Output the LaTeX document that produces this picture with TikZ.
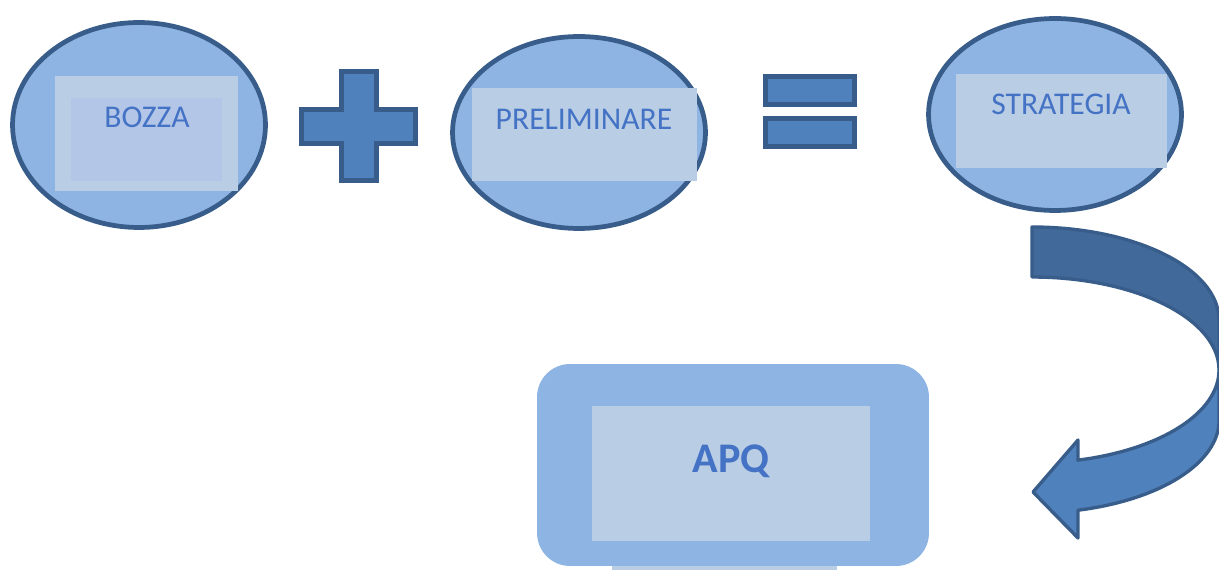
\documentclass[tikz,border=0pt]{standalone}
\usepackage{fontspec}
\setmainfont{Carlito}
\usetikzlibrary{shapes.geometric}
\definecolor{bubblefill}{HTML}{8EB4E3}
\definecolor{bubbleline}{HTML}{385D8A}
\definecolor{panelfill}{HTML}{B9CDE5}
\definecolor{panelinner}{HTML}{B3C6E7}
\definecolor{signfill}{HTML}{4F81BD}
\definecolor{backfill}{HTML}{41699A}
\definecolor{wordcolor}{HTML}{4472C4}

\begin{document}
\begin{tikzpicture}[x=0.02cm,y=-0.02cm,
  bubble/.style={ellipse,draw=bubbleline,fill=bubblefill,line width=2.7pt,inner sep=0pt,minimum width=5.06cm},
  panel/.style={rectangle,fill=panelfill,inner sep=0pt},
  word/.style={anchor=base,text=wordcolor,inner sep=0pt,font=\fontsize{18}{20}\selectfont},
  sign/.style={draw=bubbleline,fill=signfill,line width=3.2pt},
  ribbon/.style={draw=bubbleline,line width=1.9pt,line join=round}]
  \useasboundingbox (0,0) rectangle (1219,570);
  %left
  \node[bubble,minimum height=4.10cm] (bozza) at (139,125) {};
  \node[panel,minimum width=3.66cm,minimum height=2.30cm] (bozzapanel) at (146.5,133.5) {};
  \node[panel,fill=panelinner,minimum width=3.02cm,minimum height=1.66cm] (bozzainner) at (146.5,139.5) {};
  \node[word] (bozzatext) at (147,128) {BOZZA};
  %plus
  \draw[sign] (341.5,71.5) -- (376.5,71.5) -- (376.5,109.5) -- (415.5,109.5) -- (415.5,143.5)
    -- (376.5,143.5) -- (376.5,180.5) -- (341.5,180.5) -- (341.5,143.5) -- (301.5,143.5)
    -- (301.5,109.5) -- (341.5,109.5) -- cycle;
  %middle
  \node[bubble,minimum height=3.84cm] (prelim) at (579,132.5) {};
  \node[panel,minimum width=4.5cm,minimum height=1.86cm] (prelimpanel) at (584.5,134.5) {};
  \node[word] (prelimtext) at (584,130) {PRELIMINARE};
  %equals
  \draw[sign] (765.5,76.5) rectangle (854.5,104.5);
  \draw[sign] (765.5,118.5) rectangle (854.5,146.5);
  %right
  \node[bubble,minimum height=3.84cm] (strategia) at (1055,114.5) {};
  \node[panel,minimum width=4.22cm,minimum height=1.88cm] (strategiapanel) at (1061.5,121) {};
  \node[word] (strategiatext) at (1061,115) {STRATEGIA};
  %curved arrow
  \draw[ribbon,fill=backfill] (1032,227) arc[start angle=90,end angle=0,x radius=3.74cm,y radius=1.86cm]
    -- (1219,370) arc[start angle=0,end angle=90,x radius=3.74cm,y radius=1.86cm] -- cycle;
  \draw[ribbon,fill=signfill] (1219,370) arc[start angle=0,end angle=-75.8,x radius=3.74cm,y radius=1.86cm]
    -- (1078,440) -- (1033,492) -- (1078,538) -- (1078,510.2)
    arc[start angle=-75.8,end angle=0,x radius=3.74cm,y radius=1.86cm] -- cycle;
  %bottom
  \node[panel,fill=bubblefill,minimum width=7.84cm,minimum height=4.04cm,rounded corners=0.66cm] (apq) at (733,465) {};
  \node[panel,minimum width=5.56cm,minimum height=2.70cm] (apqpanel) at (731,473.5) {};
  \fill[panelfill] (612,566) rectangle (837,572);
  \node[word,font=\fontsize{24}{28}\selectfont\bfseries] (apqtext) at (731,472) {APQ};
\end{tikzpicture}
\end{document}
